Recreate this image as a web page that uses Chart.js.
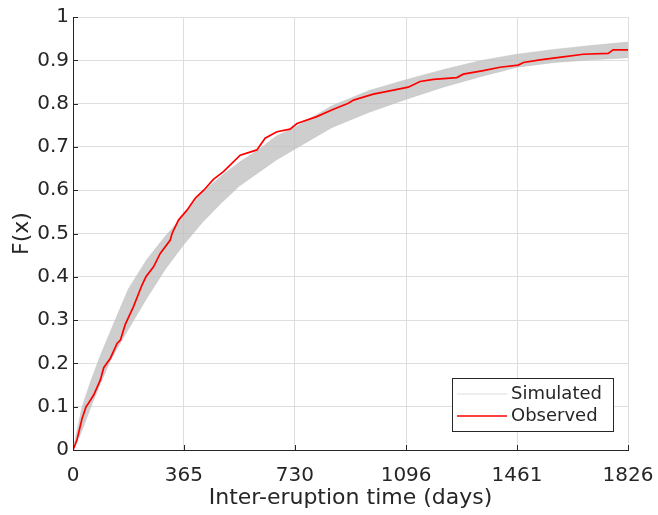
<!DOCTYPE html>
<html>
<head>
<meta charset="utf-8">
<script src="https://cdn.jsdelivr.net/npm/chart.js@4"></script>
<style>
    html, body { margin: 0; padding: 0; background: #ffffff; }
    #wrap { width: 658px; height: 515px; }
</style>
</head>
<body>
<div id="wrap"><canvas id="cdfChart" width="658" height="515"></canvas></div>
<script>
// Empirical CDF of inter-eruption times: simulated envelope + observed curve

// x axis ticks (days)
const xTicks = [0, 365, 730, 1096, 1461, 1826];

// simulated band (read from the grey envelope)
const simDays = [0, 30, 60, 91, 122, 152, 183, 243, 304, 365, 426, 487, 548, 608, 669, 730, 852, 974, 1096, 1217, 1339, 1461, 1583, 1704, 1826];
const simUpper = [0, 0.10, 0.162, 0.22, 0.272, 0.322, 0.373, 0.440, 0.494, 0.542, 0.595, 0.632, 0.665, 0.692, 0.725, 0.745, 0.795, 0.830, 0.855, 0.878, 0.899, 0.914, 0.925, 0.934, 0.942];
const simLower = [0, 0.046, 0.102, 0.155, 0.205, 0.243, 0.280, 0.351, 0.418, 0.475, 0.526, 0.570, 0.610, 0.640, 0.670, 0.695, 0.745, 0.780, 0.810, 0.838, 0.862, 0.884, 0.895, 0.901, 0.906];

// observed curve
const obsDays = [0, 13, 30, 43, 51, 68, 90, 101, 123, 145, 156, 172, 199, 227, 240, 265, 287, 320, 326, 347, 375, 402, 430, 462, 495, 550, 605, 632, 671, 714, 737, 802, 857, 906, 923, 988, 1038, 1103, 1142, 1186, 1263, 1284, 1350, 1405, 1465, 1482, 1536, 1613, 1679, 1761, 1777, 1826];
const obsF = [0, 0.023, 0.073, 0.100, 0.108, 0.127, 0.162, 0.190, 0.212, 0.246, 0.254, 0.290, 0.331, 0.381, 0.400, 0.423, 0.454, 0.485, 0.500, 0.531, 0.554, 0.581, 0.600, 0.625, 0.643, 0.681, 0.693, 0.720, 0.735, 0.741, 0.754, 0.770, 0.787, 0.801, 0.808, 0.822, 0.829, 0.838, 0.851, 0.856, 0.860, 0.868, 0.876, 0.884, 0.889, 0.895, 0.901, 0.908, 0.914, 0.916, 0.924, 0.924];

const seriesNames = ['Simulated', 'Observed'];

const FONT = 'DejaVu Sans, Verdana, sans-serif';
const INK = '#262626';

function toPoints(xs, ys) {
    return xs.map((x, i) => ({ x: x, y: ys[i] }));
}

// inward tick marks on the left and bottom axes
const innerTicks = {
    id: 'innerTicks',
    afterDraw(chart) {
        const ctx = chart.ctx;
        const xs = chart.scales.x;
        const ys = chart.scales.y;
        const area = chart.chartArea;
        ctx.save();
        ctx.strokeStyle = INK;
        ctx.lineWidth = 1;
        ctx.beginPath();
        xs.ticks.forEach(t => {
            const px = Math.round(xs.getPixelForValue(t.value)) + 0.5;
            ctx.moveTo(px, area.bottom);
            ctx.lineTo(px, area.bottom - 5);
        });
        ys.ticks.forEach(t => {
            const py = Math.round(ys.getPixelForValue(t.value)) + 0.5;
            ctx.moveTo(area.left, py);
            ctx.lineTo(area.left + 5, py);
        });
        ctx.stroke();
        ctx.restore();
    }
};

// legend box in the lower right corner of the plot
const boxLegend = {
    id: 'boxLegend',
    afterDraw(chart) {
        const ctx = chart.ctx;
        const area = chart.chartArea;
        const w = 161, h = 53;
        const left = area.right - 15 - w;
        const top = area.bottom - 19 - h;
        const colors = ['#dcdcdc', '#ff0000'];
        ctx.save();
        ctx.fillStyle = '#ffffff';
        ctx.fillRect(left, top, w, h);
        ctx.strokeStyle = INK;
        ctx.lineWidth = 1;
        ctx.strokeRect(Math.round(left) + 0.5, Math.round(top) + 0.5, w, h);
        ctx.font = '18px ' + FONT;
        ctx.textBaseline = 'middle';
        ctx.fillStyle = INK;
        seriesNames.forEach((name, i) => {
            const y = top + 16 + i * 22;
            ctx.strokeStyle = colors[i];
            ctx.lineWidth = i === 1 ? 1.5 : 1;
            ctx.beginPath();
            ctx.moveTo(left + 5, y);
            ctx.lineTo(left + 55, y);
            ctx.stroke();
            ctx.fillText(name, left + 59, y);
        });
        ctx.restore();
    }
};

const ctx = document.getElementById('cdfChart').getContext('2d');

new Chart(ctx, {
    type: 'line',
    data: {
        datasets: [
            {
                label: seriesNames[0] + ' lower',
                data: toPoints(simDays, simLower),
                borderColor: 'rgba(200,200,200,0.6)',
                borderWidth: 1,
                pointRadius: 0,
                fill: false,
                order: 2
            },
            {
                label: seriesNames[0],
                data: toPoints(simDays, simUpper),
                borderColor: 'rgba(200,200,200,0.6)',
                borderWidth: 1,
                backgroundColor: 'rgba(190,190,190,0.75)',
                pointRadius: 0,
                fill: '-1',
                order: 1
            },
            {
                label: seriesNames[1],
                data: toPoints(obsDays, obsF),
                borderColor: '#ff0000',
                borderWidth: 1.7,
                pointRadius: 0,
                fill: false,
                order: 0
            }
        ]
    },
    options: {
        responsive: false,
        animation: false,
        layout: {
            padding: { top: 17, right: 30, left: 0, bottom: 0 }
        },
        plugins: {
            legend: { display: false },
            tooltip: { enabled: false }
        },
        elements: {
            line: { tension: 0 }
        },
        scales: {
            x: {
                type: 'linear',
                min: 0,
                max: 1826,
                afterBuildTicks: (scale) => {
                    scale.ticks = xTicks.map(v => ({ value: v }));
                },
                afterFit: (scale) => {
                    scale.height = 65;
                    scale.paddingLeft = 0;
                    scale.paddingRight = 0;
                },
                grid: {
                    color: '#dedede',
                    drawTicks: false
                },
                border: { display: true, color: INK, width: 1 },
                ticks: {
                    padding: 14,
                    color: INK,
                    maxRotation: 0,
                    font: { family: FONT, size: 20 },
                    callback: (v) => String(v)
                },
                title: {
                    display: true,
                    text: 'Inter-eruption time (days)',
                    color: INK,
                    font: { family: FONT, size: 22 },
                    padding: { top: 0, bottom: 4 }
                }
            },
            y: {
                min: 0,
                max: 1,
                afterFit: (scale) => {
                    scale.width = 73;
                    scale.paddingTop = 0;
                    scale.paddingBottom = 0;
                },
                grid: {
                    color: '#dedede',
                    drawTicks: false
                },
                border: { display: true, color: INK, width: 1 },
                ticks: {
                    stepSize: 0.1,
                    padding: 4,
                    color: INK,
                    font: { family: FONT, size: 20 },
                    callback: (v) => String(Math.round(v * 10) / 10)
                },
                title: {
                    display: true,
                    text: 'F(x)',
                    color: INK,
                    font: { family: FONT, size: 22 },
                    padding: { top: 9, bottom: 0 }
                }
            }
        }
    },
    plugins: [innerTicks, boxLegend]
});
</script>
</body>
</html>
